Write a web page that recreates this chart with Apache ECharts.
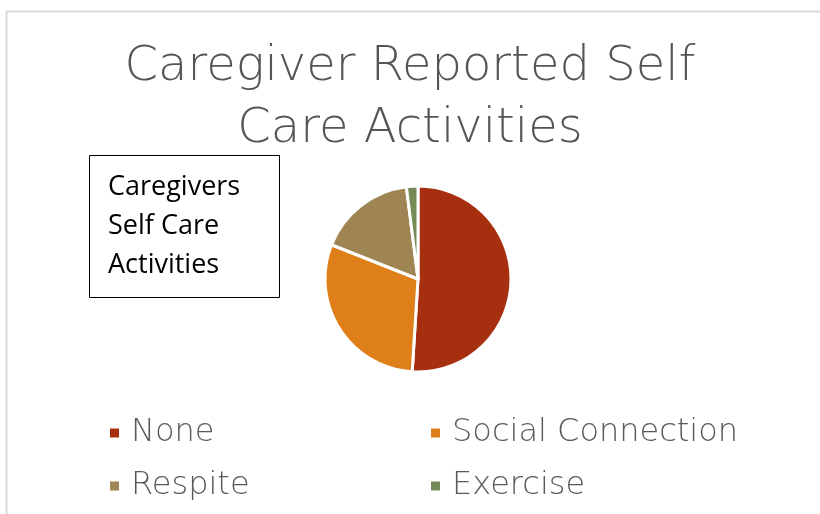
<!DOCTYPE html>
<html>
<head>
<meta charset="utf-8">
<script src="https://cdn.jsdelivr.net/npm/echarts@6/dist/echarts.min.js"></script>
<style>
  html, body { margin: 0; padding: 0; background: #fff; }
  #chart { width: 820px; height: 514px; }
</style>
</head>
<body>
<div id="chart"></div>
<script>
// Self care activities reported by caregivers (percent of respondents)
const categories = ['None', 'Social Connection', 'Respite', 'Exercise'];
const shares = [51, 30, 17, 2];
const sliceColors = ['#A52F0F', '#DF7F1A', '#9F8454', '#748B57'];

const titleText = 'Caregiver Reported Self\nCare Activities';
const boxText = 'Caregivers\nSelf Care\nActivities';

const chart = echarts.init(document.getElementById('chart'));

const legendText = {
  fontFamily: 'DejaVu Sans',
  fontWeight: 200,
  fontSize: 32,
  color: '#595959',
  padding: [0, 0, 0, 6]
};

chart.setOption({
  animation: false,
  backgroundColor: '#fff',
  color: sliceColors,
  title: {
    text: titleText,
    left: 'center',
    top: 32,
    textStyle: {
      fontFamily: 'DejaVu Sans',
      fontWeight: 200,
      fontSize: 48,
      lineHeight: 62,
      color: '#555555'
    }
  },
  legend: [
    {
      data: [categories[0], categories[2]],
      orient: 'vertical',
      left: 103,
      top: 412,
      itemWidth: 11,
      itemHeight: 11,
      itemGap: 21,
      icon: 'rect',
      textStyle: legendText
    },
    {
      data: [categories[1], categories[3]],
      orient: 'vertical',
      left: 424,
      top: 412,
      itemWidth: 11,
      itemHeight: 11,
      itemGap: 21,
      icon: 'rect',
      textStyle: legendText
    }
  ],
  graphic: [
    {
      type: 'rect',
      shape: { x: 6.5, y: 11.5, width: 900, height: 600 },
      style: { fill: 'none', stroke: '#D9D9D9', lineWidth: 2 },
      silent: true
    },
    {
      type: 'rect',
      shape: { x: 89.5, y: 155.5, width: 190, height: 142 },
      style: { fill: '#fff', stroke: '#000', lineWidth: 1 },
      silent: true
    },
    {
      type: 'text',
      left: 108,
      top: 168,
      style: {
        text: boxText,
        fontFamily: 'Open Sans',
        fontSize: 27,
        lineHeight: 39,
        fill: '#000'
      },
      silent: true
    }
  ],
  series: [
    {
      type: 'pie',
      center: [418, 279],
      radius: 93,
      startAngle: 90,
      clockwise: true,
      label: { show: false },
      labelLine: { show: false },
      itemStyle: { borderColor: '#fff', borderWidth: 3 },
      emphasis: { disabled: true },
      data: categories.map((name, i) => ({ name: name, value: shares[i] }))
    }
  ]
});
</script>
</body>
</html>
